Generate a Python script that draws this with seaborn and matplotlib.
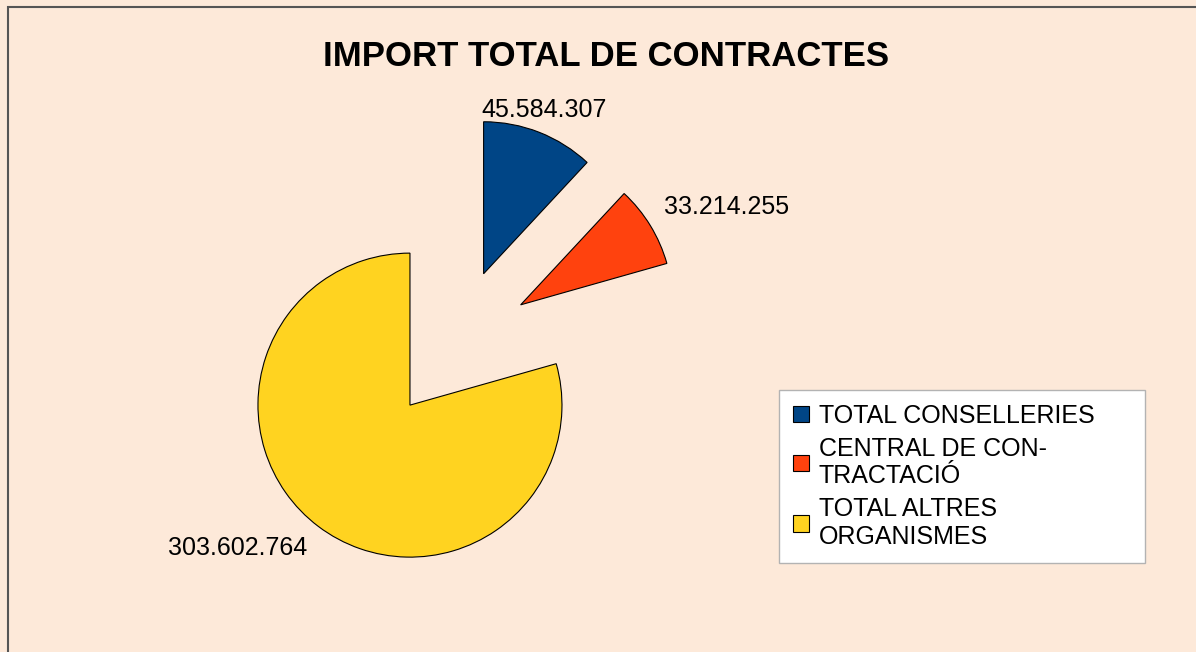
import matplotlib
matplotlib.use("Agg")
import matplotlib.pyplot as plt
import seaborn as sns

# data
categories = ["TOTAL CONSELLERIES", "CENTRAL DE CON-\nTRACTACIÓ", "TOTAL ALTRES\nORGANISMES"]
values = [45584307, 33214255, 303602764]
value_labels = ["45.584.307", "33.214.255", "303.602.764"]
colors = ["#004586", "#FF420E", "#FFD320"]

sns.set_theme(style="white")
plt.rcParams["font.family"] = ["Liberation Sans", "DejaVu Sans"]
plt.rcParams["text.color"] = "black"

W, H = 1196, 652
bg = "#FDE9D9"
fig = plt.figure(figsize=(W / 100, H / 100), dpi=100)
fig.patch.set_facecolor(bg)

# pie centre and radius in pixels
cx, cy, r = 455.8, 344.5, 152.0


def px(x, y):
    return (x - cx) / r, (cy - y) / r


ax = fig.add_axes([0, 0, 1, 1])
ax.set_facecolor(bg)
wedges, _ = ax.pie(values, colors=colors, startangle=90, counterclock=False,
                   explode=[0.5, 0.5, 0.5], radius=1,
                   wedgeprops=dict(edgecolor="black", linewidth=0.8))
ax.set_xlim(-cx / r, (W - cx) / r)
ax.set_ylim((cy - H) / r, cy / r)
ax.axis("off")

# value labels outside the slices
label_pos = [(544, 110), (727, 207), (238, 548)]
for (lx, ly), txt in zip(label_pos, value_labels):
    ax.text(*px(lx, ly), txt, ha="center", va="center", fontsize=18, color="black")

fig.text(606 / W, 1 - 57 / H, "IMPORT TOTAL DE CONTRACTES", ha="center", va="center",
         fontsize=25, fontweight="bold", color="black")

leg = ax.legend(wedges, categories, loc="upper left",
                bbox_to_anchor=(779 / W, 1 - 562 / H, (1145 - 779) / W, (562 - 390) / H),
                mode="expand", borderaxespad=0, fontsize=18, frameon=True, fancybox=False,
                handlelength=0.65, handleheight=0.65, handletextpad=0.4,
                borderpad=0.55, labelspacing=0.35, labelcolor="black")
leg.get_frame().set_facecolor("white")
leg.get_frame().set_edgecolor("#b3b3b3")
leg.get_frame().set_linewidth(1)
leg.get_frame().set_alpha(1)

# outer border (only left and top visible)
fig.add_artist(plt.Rectangle((8 / W, -0.1), 1.2, 1.1 - 7 / H, transform=fig.transFigure,
                             fill=False, edgecolor="#555555", linewidth=1.5))

fig.savefig("out.png", dpi=100, facecolor=bg)
